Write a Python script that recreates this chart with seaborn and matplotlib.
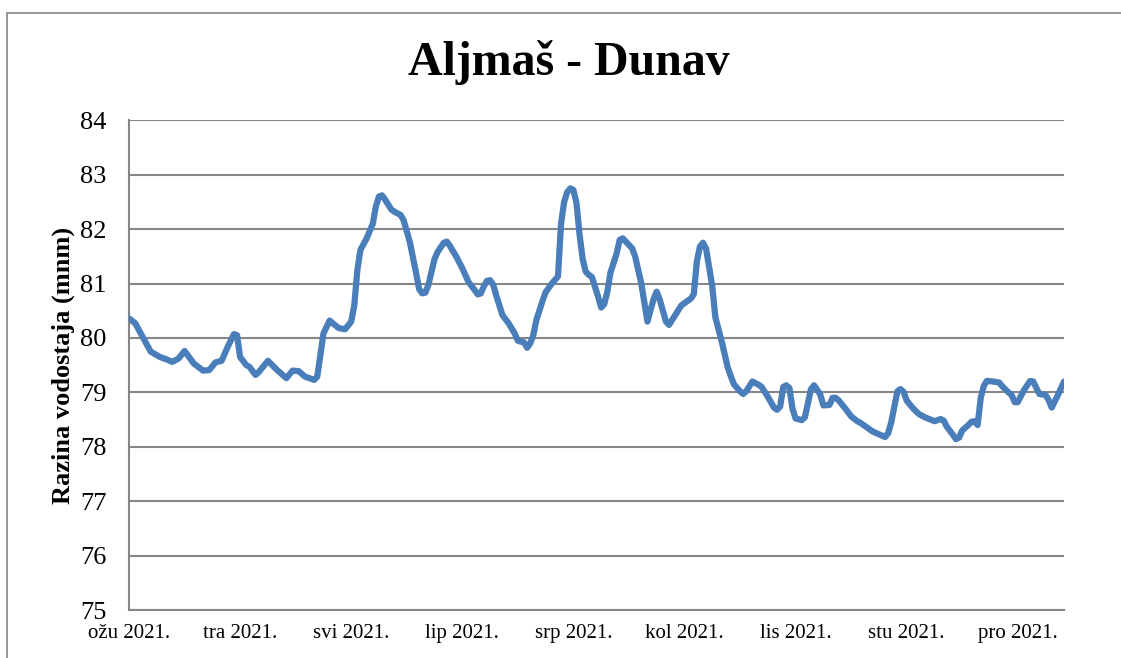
import numpy as np
import pandas as pd
import seaborn as sns
import matplotlib.pyplot as plt
import matplotlib.patches as mpatches

START_DATE = pd.Timestamp('2021-03-01')
TICK_STEP_DAYS = 36
LAST_DAY = 303

# days counted from 1 March 2021, water level in m a.s.l.
day_offsets = [
    0, 2, 5, 7, 10, 12, 14, 16, 18, 21, 24, 26, 28, 30, 32, 34, 35, 36, 38, 39,
    41, 42, 45, 48, 51, 53, 55, 57, 60, 61, 63, 65, 66, 68, 70, 72, 73, 74, 75, 77,
    79, 80, 81, 82, 83, 85, 86, 88, 89, 91, 93, 94, 95, 96, 97, 99, 100, 102, 103, 104,
    106, 108, 110, 112, 113, 114, 115, 116, 117, 118, 119, 121, 123, 125, 126, 127, 128, 129, 130, 131,
    132, 134, 135, 137, 139, 140, 141, 142, 143, 144, 145, 146, 147, 148, 149, 150, 152, 153, 154, 155,
    156, 158, 159, 160, 161, 163, 164, 166, 167, 168, 170, 171, 172, 174, 175, 177, 179, 181, 182, 183,
    184, 185, 186, 187, 189, 190, 192, 194, 195, 196, 198, 199, 200, 202, 204, 205, 207, 209, 210, 211,
    212, 213, 214, 215, 216, 218, 219, 221, 222, 224, 225, 227, 228, 229, 230, 232, 234, 236, 237, 239,
    241, 243, 245, 246, 247, 248, 249, 250, 251, 252, 254, 256, 258, 261, 263, 264, 265, 267, 268, 269,
    270, 272, 273, 274, 275, 276, 277, 278, 280, 282, 283, 285, 286, 287, 288, 290, 292, 293, 295, 297,
    298, 299, 301, 303,
]
levels = [
    80.36, 80.27, 79.96, 79.75, 79.65, 79.61, 79.56, 79.62, 79.76, 79.53, 79.40, 79.41, 79.55, 79.58, 79.84, 80.07, 80.05, 79.65, 79.50, 79.47,
    79.32, 79.37, 79.58, 79.41, 79.26, 79.40, 79.39, 79.29, 79.23, 79.29, 80.08, 80.32, 80.27, 80.18, 80.16, 80.30, 80.60, 81.25, 81.62, 81.83,
    82.10, 82.42, 82.60, 82.62, 82.54, 82.36, 82.32, 82.26, 82.16, 81.76, 81.20, 80.90, 80.82, 80.83, 80.97, 81.45, 81.58, 81.75, 81.77, 81.69,
    81.50, 81.28, 81.03, 80.88, 80.80, 80.82, 80.95, 81.05, 81.06, 80.98, 80.78, 80.42, 80.27, 80.08, 79.95, 79.93, 79.92, 79.82, 79.90, 80.05,
    80.33, 80.68, 80.84, 81.00, 81.13, 82.10, 82.50, 82.68, 82.75, 82.72, 82.48, 81.90, 81.45, 81.22, 81.16, 81.12, 80.76, 80.56, 80.62, 80.85,
    81.20, 81.55, 81.80, 81.83, 81.77, 81.65, 81.50, 81.00, 80.65, 80.30, 80.72, 80.85, 80.70, 80.30, 80.24, 80.42, 80.60, 80.68, 80.72, 80.80,
    81.40, 81.68, 81.75, 81.64, 80.95, 80.38, 79.95, 79.46, 79.30, 79.15, 79.02, 78.97, 79.02, 79.20, 79.14, 79.10, 78.92, 78.72, 78.68, 78.74,
    79.10, 79.13, 79.08, 78.70, 78.52, 78.49, 78.54, 79.06, 79.13, 78.96, 78.76, 78.77, 78.90, 78.90, 78.85, 78.71, 78.56, 78.47, 78.44, 78.36,
    78.28, 78.23, 78.18, 78.25, 78.45, 78.74, 79.02, 79.06, 79.01, 78.85, 78.71, 78.60, 78.54, 78.47, 78.51, 78.48, 78.37, 78.22, 78.14, 78.17,
    78.30, 78.40, 78.46, 78.47, 78.40, 78.90, 79.12, 79.21, 79.20, 79.18, 79.11, 79.00, 78.95, 78.82, 78.82, 79.04, 79.21, 79.20, 78.97, 78.95,
    78.86, 78.72, 78.95, 79.20,
]
month_labels = ['ožu 2021.', 'tra 2021.', 'svi 2021.', 'lip 2021.', 'srp 2021.',
                'kol 2021.', 'lis 2021.', 'stu 2021.', 'pro 2021.']
y_ticks = list(range(75, 85))

sns.set_style('white')
plt.rcParams['font.family'] = ['Liberation Serif', 'DejaVu Serif']
for key in ['text.color', 'axes.labelcolor', 'xtick.color', 'ytick.color']:
    plt.rcParams[key] = 'black'

df = pd.DataFrame({
    'datum': START_DATE + pd.to_timedelta(day_offsets, unit='D'),
    'razina': levels,
})

GRID_GREY = '#868686'

fig = plt.figure(figsize=(11.21, 6.58), dpi=100)
ax = fig.add_axes([0.1151, 0.0729, 0.8341, 0.7443])

sns.lineplot(data=df, x='datum', y='razina', ax=ax, color='#4a7ebb', linewidth=4.5,
             solid_joinstyle='round', solid_capstyle='round', zorder=3)

# x axis: one label every 36 days, starting at the first day
tick_dates = [START_DATE + pd.Timedelta(days=TICK_STEP_DAYS * i) for i in range(len(month_labels))]
ax.set_xticks(tick_dates)
ax.set_xticklabels(month_labels)
ax.set_xlim(START_DATE, START_DATE + pd.Timedelta(days=LAST_DAY))

ax.set_ylim(75, 84)
ax.set_yticks(y_ticks)

ax.yaxis.grid(True, color=GRID_GREY, linewidth=1.5)
ax.xaxis.grid(False)
for side in ['top', 'right']:
    ax.spines[side].set_visible(False)
for side in ['left', 'bottom']:
    ax.spines[side].set_color(GRID_GREY)
    ax.spines[side].set_linewidth(1.5)

ax.tick_params(axis='y', length=0, labelsize=19, pad=16)
ax.tick_params(axis='x', length=0, labelsize=15, pad=10)

ax.set_xlabel('')
ax.set_ylabel('Razina vodostaja (mnm)', fontsize=19, fontweight='bold')
ax.yaxis.set_label_coords(-0.058, 0.5)

fig.text(0.507, 0.905, 'Aljmaš - Dunav', fontsize=34.5, fontweight='bold',
         ha='center', va='center')

# chart frame (cut off on the right and bottom in the original)
frame = mpatches.Rectangle((7 / 1121, -0.05), 1.1, 1 - 12.5 / 658 + 0.05,
                           transform=fig.transFigure, fill=False,
                           edgecolor=GRID_GREY, linewidth=1.2)
fig.patches.append(frame)

fig.savefig('out.png', dpi=100)
plt.close(fig)
